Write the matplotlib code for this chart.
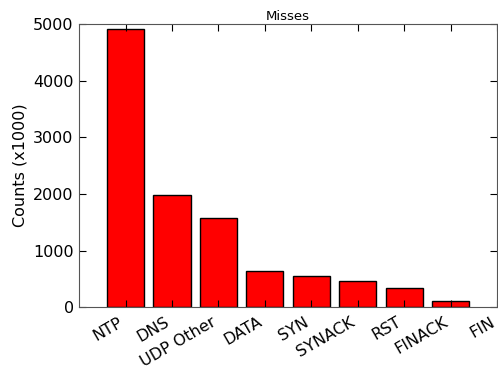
import matplotlib
matplotlib.use('Agg')
import matplotlib.pyplot as plt

# misses per packet type, in thousands
labels = ['NTP', 'DNS', 'UDP Other', 'DATA', 'SYN', 'SYNACK', 'RST', 'FINACK', 'FIN']
counts = [4910, 1980, 1580, 635, 557, 464, 340, 116, 0]

plt.rcParams['xtick.direction'] = 'in'
plt.rcParams['ytick.direction'] = 'in'
plt.rcParams['xtick.top'] = True
plt.rcParams['ytick.right'] = True

fig = plt.figure(figsize=(4.98, 3.69), dpi=100)
ax = fig.add_axes([0.159, 0.167, 0.839, 0.768])

pos = list(range(len(labels)))
bars = ax.bar(pos, counts, width=0.8, color='red', edgecolor='black', linewidth=1)
# zero height bar leaves no outline in the original
for b, c in zip(bars, counts):
    if c == 0:
        b.set_edgecolor('none')

ax.set_xlim(-1, 8)
ax.set_ylim(0, 5000)
ax.set_yticks([0, 1000, 2000, 3000, 4000, 5000])
ax.set_xticks(pos)
ax.set_xticklabels(labels, rotation=30, ha='right', fontsize=11.5)
ax.tick_params(axis='y', labelsize=11.5, pad=4)
ax.tick_params(axis='x', pad=5)
ax.tick_params(length=5, width=0.8)
for s in ax.spines.values():
    s.set_color('#555555')

ax.set_title('Misses', fontsize=9.5, pad=3)
ax.set_ylabel('Counts (x1000)', fontsize=11.5)

fig.savefig('out.png', dpi=100)
